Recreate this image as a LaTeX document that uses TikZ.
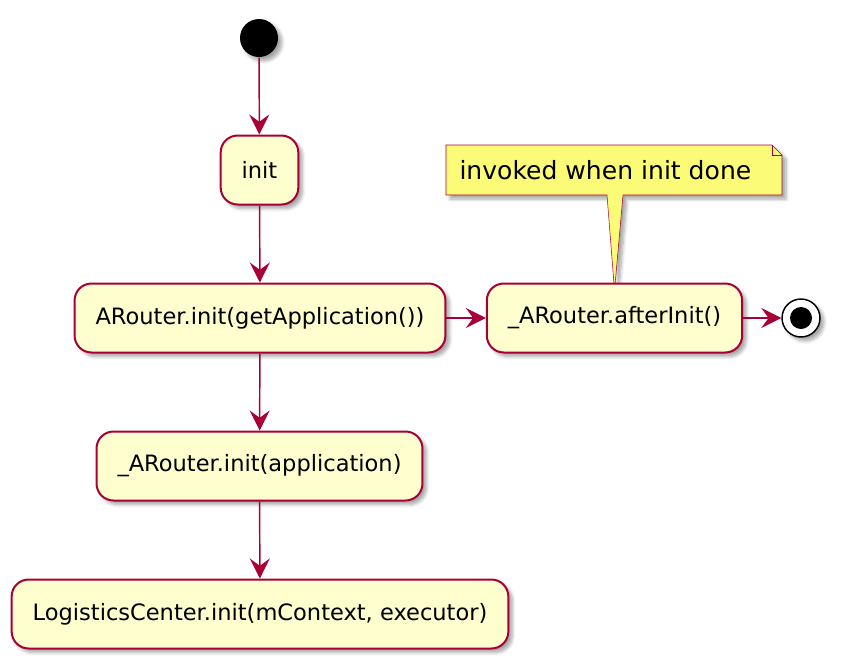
\documentclass[tikz,border=0pt]{standalone}
\usepackage{fontspec}
\setmainfont{DejaVu Sans}
\usetikzlibrary{arrows.meta,shadows.blur,backgrounds}

\definecolor{umlred}{RGB}{168,0,54}
\definecolor{umlfill}{RGB}{254,254,206}
\definecolor{notefill}{RGB}{251,251,119}

\tikzset{every picture/.style={line width=0.75pt}}
\tikzset{
  umlshadow/.style={blur shadow={shadow xshift=3pt,shadow yshift=-3pt,shadow blur steps=6,shadow blur radius=2.5pt,shadow opacity=35}},
  action/.style={draw=umlred,fill=umlfill,line width=1.5pt,rounded corners=12.75pt,
    minimum height=51.75pt,inner xsep=15.75pt,font=\fontsize{16.9}{20}\selectfont,umlshadow},
  flow/.style={draw=umlred,line width=1.1pt,-{Stealth[length=15pt,width=15pt,inset=5.5pt]}}
}

\begin{document}
\begin{tikzpicture}[x=0.75pt,y=0.75pt,yscale=-1,xscale=1]
\useasboundingbox (0,0) rectangle (842,668);
% start / end
\node (start) [circle,fill=black,minimum size=28.5pt,inner sep=0pt,umlshadow] at (259,38) {};
\node (init) [action] at (259.5,170) {init};
\node (arinit) [action] at (260,318) {ARouter.init(getApplication())};
\node (priv) [action] at (259.5,466) {\_ARouter.init(application)};
\node (logis) [action] at (260,614) {LogisticsCenter.init(mContext, executor)};
\node (after) [action] at (614.5,318) {\_ARouter.afterInit()};
\node (stop) [circle,draw=black,fill=white,line width=1.1pt,minimum size=28.5pt,inner sep=0pt,umlshadow] at (801,318) {};
\node (stopdot) [circle,fill=black,minimum size=16.5pt,inner sep=0pt] at (stop.center) {};

% note
\begin{scope}[on background layer]
\draw [draw=umlred,fill=notefill,umlshadow] (446,145) -- (772,145) -- (782,155) -- (782,195) -- (623,195) -- ([yshift=6pt]after.north) -- (607,195) -- (446,195) -- cycle ;
\draw [draw=umlred] (772,145) -- (772,155) -- (782,155) ;
\end{scope}
\node (note) [anchor=west,inner sep=0pt,font=\fontsize{18.8}{22}\selectfont] at (459,170) {invoked when init done};

% flows
\draw [flow] (start) -- (init);
\draw [flow] (init) -- (arinit);
\draw [flow] (arinit) -- (priv);
\draw [flow] (priv) -- (logis);
\draw [flow] (arinit) -- (after);
\draw [flow] (after) -- (stop);
\end{tikzpicture}
\end{document}
